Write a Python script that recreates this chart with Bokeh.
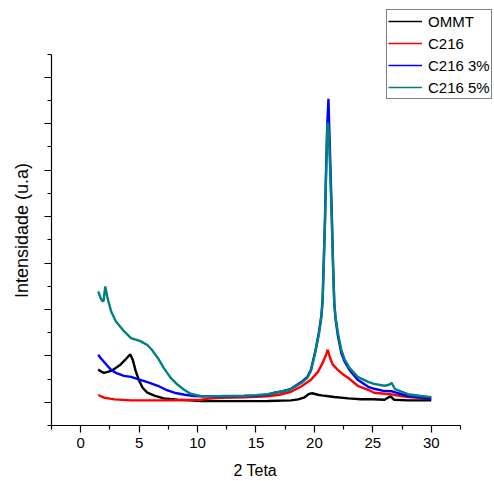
from bokeh.plotting import figure
from bokeh.models import FixedTicker, Legend, LegendItem, Range1d, CustomJSTickFormatter
from bokeh.embed import file_html
from bokeh.resources import INLINE

# ---- data ----
ommt_x = [1.5, 1.8, 2.0, 2.3, 2.6, 3.0, 3.4, 3.8, 4.1, 4.25, 4.45, 4.7, 5.0, 5.3, 5.7, 6.3, 7.1,
          8.3, 9.4, 10.3, 12, 14, 16, 18, 18.6, 19.1, 19.5, 19.8, 20.3, 20.6, 21.2, 21.7, 22.9,
          24.0, 25.0, 26.0, 26.5, 26.8, 28, 29, 30]
ommt_y = [1204, 1155, 1134, 1155, 1176, 1241, 1311, 1412, 1497, 1529, 1418, 1176, 963, 813, 706,
          642, 584, 556, 541, 528, 524, 524, 528, 541, 563, 599, 674, 695, 663, 648, 631, 614, 584,
          567, 567, 556, 631, 556, 541, 541, 545]

c216_x = [1.5, 1.8, 2.0, 2.5, 2.9, 4.3, 6.6, 8, 10.3, 11, 12, 14, 16, 17, 18, 18.9, 19.7, 20.3,
          20.7, 21.0, 21.14, 21.34, 21.57, 22.0, 22.5, 23.0, 23.7, 24.6, 25.1, 26.0, 26.6, 27, 28,
          29, 30]
c216_y = [657, 620, 599, 578, 563, 541, 541, 545, 556, 578, 599, 610, 631, 663, 727, 845, 984,
          1155, 1348, 1525, 1632, 1455, 1311, 1198, 1091, 1005, 856, 770, 706, 684, 670, 652, 614,
          599, 584]

c3_x = [1.5, 1.7, 2.0, 2.3, 2.6, 3.0, 3.7, 4.3, 5.1, 5.9, 6.6, 7.3, 8.0, 8.9, 9.7, 10.5, 12, 14,
        15, 16, 16.6, 17.3, 18.0, 18.9, 19.4, 19.7, 20.1, 20.4, 20.6, 20.7, 20.8, 20.9, 21.0, 21.1,
        21.2, 21.3, 21.4, 21.5, 21.6, 21.7, 21.8, 22.0, 22.3, 22.6, 23.0, 23.7, 24.6, 25.1, 26.0,
        26.6, 27, 28, 29, 30]
c3_y = [1525, 1455, 1369, 1283, 1198, 1134, 1070, 1048, 984, 920, 856, 770, 706, 663, 635, 631,
        631, 635, 642, 663, 706, 738, 791, 941, 1048, 1198, 1626, 2032, 2381, 2702, 3551, 4406,
        5561, 6481, 7037, 6160, 5305, 4449, 3422, 2631, 2310, 1946, 1561, 1369, 1198, 984, 834,
        791, 742, 738, 706, 635, 610, 588]

c5_x = [1.5, 1.65, 1.8, 1.95, 2.1, 2.3, 2.6, 3.0, 3.7, 4.3, 5.1, 5.7, 6.1, 6.6, 7.1, 7.7, 8.3,
        8.85, 9.4, 10.3, 12, 14, 15, 16, 16.6, 17.3, 18.0, 18.9, 19.4, 19.7, 20.1, 20.4, 20.6,
        20.7, 20.8, 20.9, 21.0, 21.1, 21.15, 21.2, 21.3, 21.4, 21.5, 21.6, 21.7, 21.8, 22.0, 22.3,
        22.6, 23.0, 23.7, 24.6, 25.1, 26.0, 26.4, 26.6, 26.9, 28, 29.1, 30]
c5_y = [2888, 2781, 2695, 2674, 2995, 2738, 2460, 2246, 2032, 1882, 1818, 1733, 1626, 1455, 1241,
        1027, 877, 770, 684, 631, 635, 642, 652, 674, 706, 738, 781, 920, 1027, 1176, 1604, 1989,
        2353, 2674, 3487, 4321, 5412, 6374, 6524, 6417, 5839, 5091, 4278, 3380, 2631, 2353, 2011,
        1626, 1412, 1241, 1048, 941, 898, 856, 877, 920, 781, 674, 635, 610]

names = ["OMMT", "C216", "C216 3%", "C216 5%"]
colors = ["#000000", "#ff0000", "#0000ff", "#008080"]

x_major = [0, 5, 10, 15, 20, 25, 30]
x_minor = [-2.5, 2.5, 7.5, 12.5, 17.5, 22.5, 27.5, 32.5]
y_major = [500, 1500, 2500, 3500, 4500, 5500, 6500, 7500]
y_minor = [0, 1000, 2000, 3000, 4000, 5000, 6000, 7000, 8000]

x_title = "2 Teta"
y_title = "Intensidade (u.a)"

FONT = "Liberation Sans"
NBSP = "\u00a0"

# frame spans to the top/right edges so the legend is not clipped;
# the axes themselves only cover -2.5..32.5 and 0..8000
p = figure(width=494, height=481, output_backend="svg", toolbar_location=None,
           x_range=Range1d(-2.5, 35.41), y_range=Range1d(0, 9155),
           min_border_left=51, min_border_right=0, min_border_top=0, min_border_bottom=53)
p.outline_line_color = None
p.grid.visible = False

series = [(ommt_x, ommt_y), (c216_x, c216_y), (c3_x, c3_y), (c5_x, c5_y)]
for (xs, ys), c in zip(series, colors):
    p.line(xs, ys, line_color=c, line_width=2.4)

# thin line samples used only by the legend (hidden on the plot)
items = []
for (xs, ys), c, n in zip(series, colors, names):
    lr = p.line(xs, ys, line_color=c, line_width=1.3, visible=False)
    items.append(LegendItem(label=n, renderers=[lr]))

# axes
for ax in (p.xaxis[0], p.yaxis[0]):
    ax.axis_line_color = "black"
    ax.axis_line_width = 1.2
    ax.major_tick_line_color = "black"
    ax.minor_tick_line_color = "black"
    ax.major_tick_line_width = 1.2
    ax.minor_tick_line_width = 1.2
    ax.major_tick_in = 0
    ax.major_tick_out = 7
    ax.minor_tick_in = 0
    ax.minor_tick_out = 4
    ax.axis_label_text_font = FONT
    ax.axis_label_text_font_style = "normal"
    ax.axis_label_text_color = "black"
    ax.major_label_text_font = FONT
    ax.major_label_text_font_size = "15px"
    ax.major_label_text_color = "black"

# the axis titles are centred on the whole frame; trailing no-break spaces move
# them back to the centre of the drawn axis
p.xaxis.bounds = (-2.5, 32.5)
p.xaxis.ticker = FixedTicker(ticks=x_major, minor_ticks=x_minor)
p.xaxis.axis_label = x_title + NBSP * 8
p.xaxis.axis_label_text_font_size = "16px"
p.xaxis.major_label_standoff = 5
p.xaxis.axis_label_standoff = 11

p.yaxis.bounds = (0, 8000)
p.yaxis.ticker = FixedTicker(ticks=y_major, minor_ticks=y_minor)
p.yaxis.formatter = CustomJSTickFormatter(code="return ''")
p.yaxis.axis_label = y_title + NBSP * 7
p.yaxis.axis_label_text_font_size = "18px"
p.yaxis.major_label_standoff = 0
p.yaxis.axis_label_standoff = 13

legend = Legend(items=items, location=(335, 326))
legend.label_text_font = FONT
legend.label_text_font_size = "15px"
legend.label_text_color = "black"
legend.glyph_width = 34
legend.glyph_height = 20
legend.label_height = 20
legend.label_standoff = 6
legend.spacing = 2
legend.padding = 1
legend.margin = 0
legend.inactive_fill_alpha = 0
legend.border_line_color = "black"
legend.border_line_width = 1
legend.background_fill_color = "white"
legend.background_fill_alpha = 1
p.add_layout(legend, "center")

open("out.html", "w").write(file_html(p, INLINE))
